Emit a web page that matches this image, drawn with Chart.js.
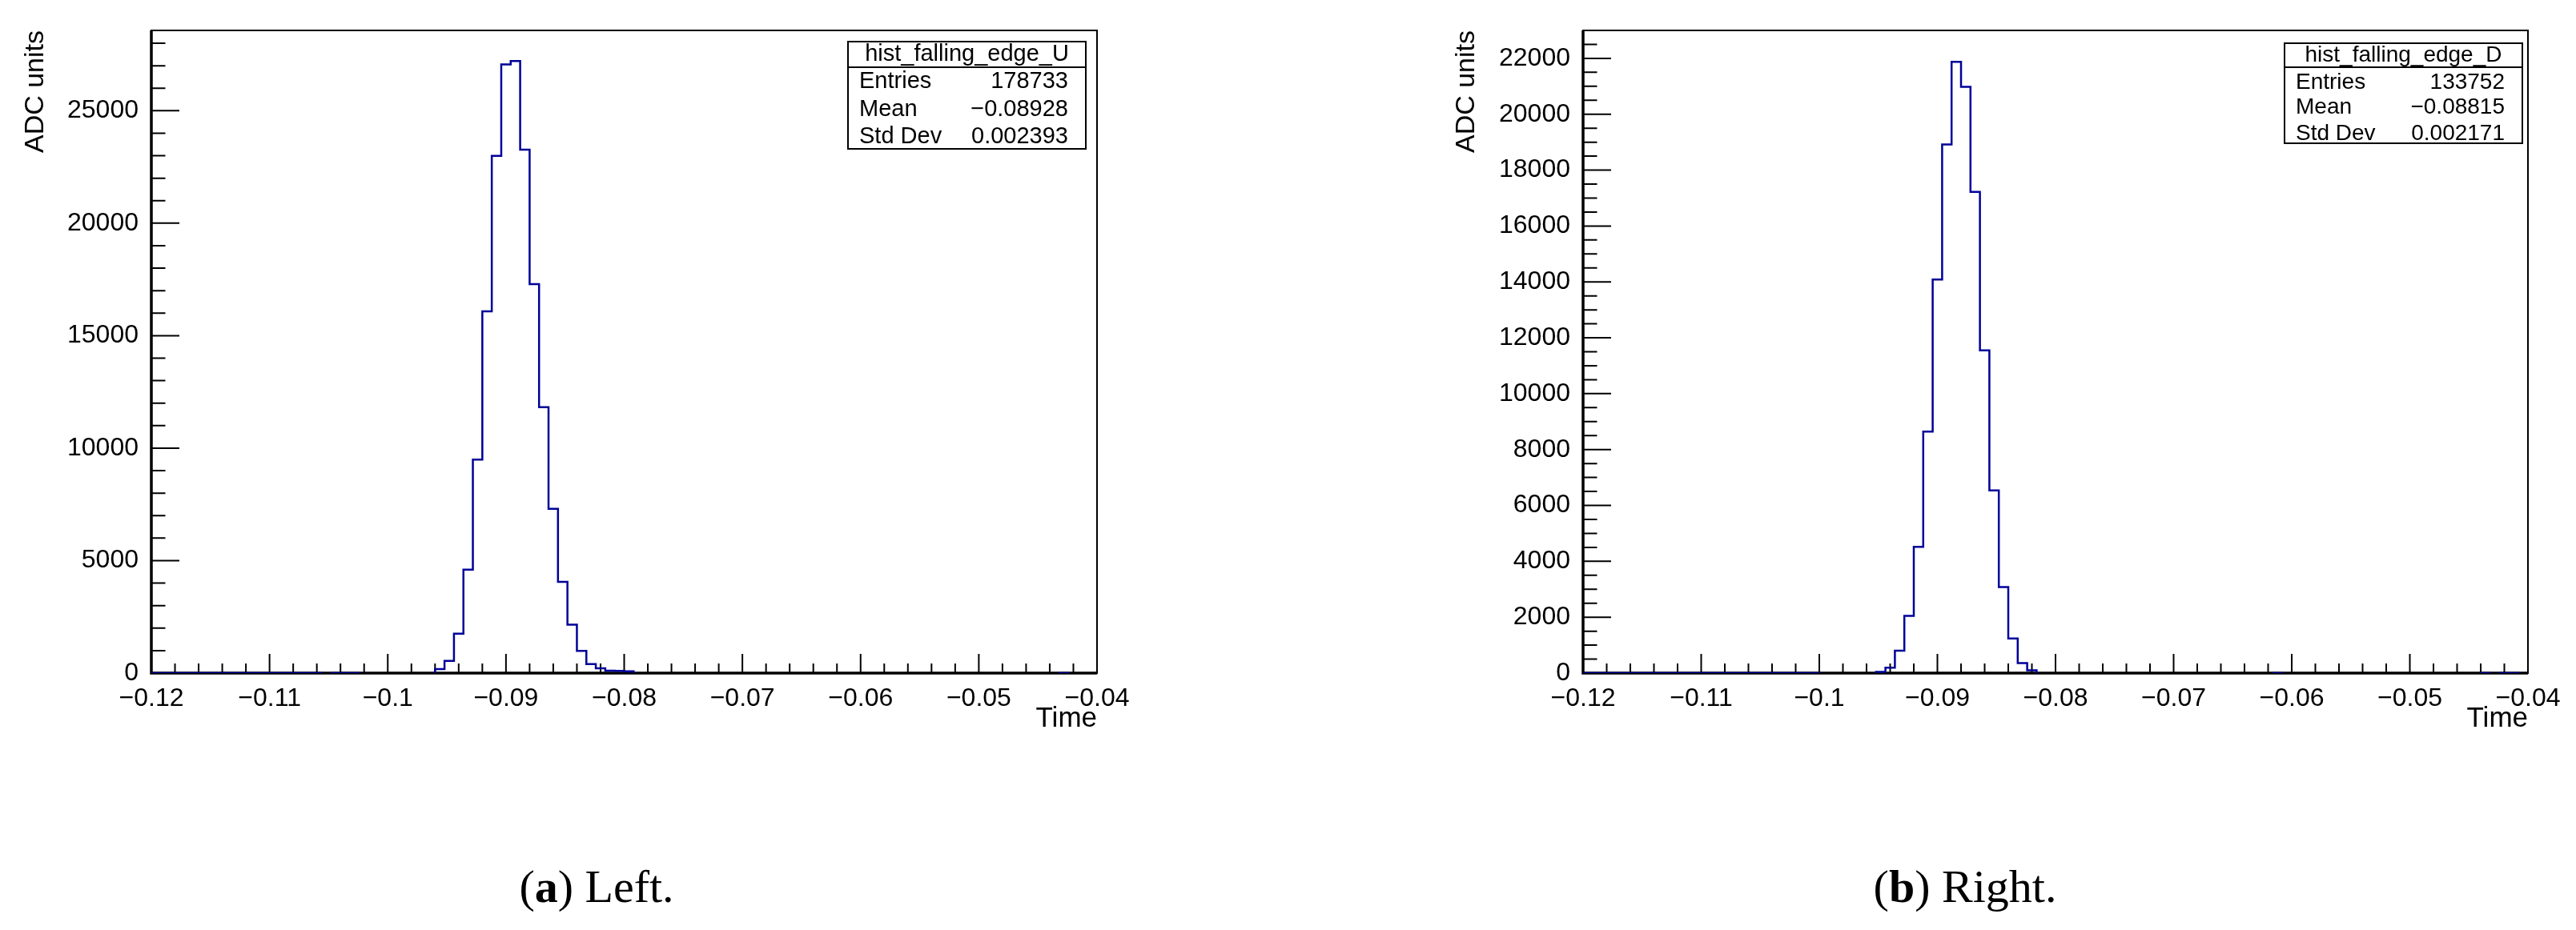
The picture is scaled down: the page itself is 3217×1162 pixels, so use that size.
<!DOCTYPE html>
<html>
<head>
<meta charset="utf-8">
<script src="https://cdn.jsdelivr.net/npm/chart.js@4.4.0/dist/chart.umd.min.js"></script>
<style>
  body { margin: 0; background: #fff; width: 3217px; height: 1162px; position: relative; overflow: hidden; }
  .panel { position: absolute; top: 0; }
  .caption { position: absolute; top: 1079px; line-height: 1; font-family: "Liberation Serif", serif; font-size: 58px; color: #000; white-space: nowrap; transform: translateX(-50%); }
</style>
</head>
<body>
<canvas class="panel" id="chartU" width="1600" height="1000" style="left:0"></canvas>
<canvas class="panel" id="chartD" width="1617" height="1000" style="left:1600px"></canvas>
<div class="caption" style="left:745px">(<b>a</b>) Left.</div>
<div class="caption" style="left:2454px">(<b>b</b>) Right.</div>
<script>
// histogram range, 100 bins
const xMin = -0.12;
const xMax = -0.04;
const xTickValues = [-0.12, -0.11, -0.1, -0.09, -0.08, -0.07, -0.06, -0.05, -0.04];

const countsU = [
  1, 1, 1, 1, 1, 1, 1, 1, 1, 1,
  1, 1, 1, 1, 1, 1, 1, 1, 0, 1,
  1, 1, 0, 0, 0, 0, 0, 0, 0, 0,
  180, 540, 1750, 4600, 9490, 16080, 22990, 27060, 27210, 23270,
  17290, 11820, 7300, 4060, 2150, 990, 400, 215, 110, 95,
  80, 0, 0, 0, 0, 0, 0, 0, 0, 0,
  0, 0, 0, 0, 0, 0, 0, 0, 0, 0,
  0, 0, 0, 0, 0, 0, 0, 0, 0, 0,
  0, 0, 0, 0, 0, 0, 0, 0, 0, 0,
  0, 0, 0, 0, 0, 0, 1, 0, 0, 0
];
const countsD = [
  1, 1, 1, 1, 1, 1, 1, 1, 1, 1,
  1, 1, 1, 1, 1, 1, 1, 1, 1, 1,
  1, 1, 1, 1, 1, 0, 0, 0, 0, 0,
  0, 40, 190, 804, 2047, 4518, 8642, 14085, 18921, 21877,
  20983, 17224, 11553, 6535, 3078, 1240, 360, 100, 0, 0,
  0, 0, 0, 0, 0, 0, 0, 0, 0, 0,
  0, 0, 0, 0, 0, 0, 0, 0, 0, 0,
  0, 0, 0, 1, 0, 0, 0, 0, 0, 0,
  0, 0, 0, 0, 0, 0, 0, 0, 0, 0,
  0, 0, 0, 0, 0, 1, 0, 1, 1, 0
];

const yMaxU = 28570;
const yMaxD = 23000;
const yTicksU = [0, 5000, 10000, 15000, 20000, 25000];
const yTicksD = [0, 2000, 4000, 6000, 8000, 10000, 12000, 14000, 16000, 18000, 20000, 22000];

const statLabels = ["Entries", "Mean", "Std Dev"];
const statsU = ["178733", "\u22120.08928", "0.002393"];
const statsD = ["133752", "\u22120.08815", "0.002171"];

const FONT = '"Liberation Sans", Arial, sans-serif';

// stepped outline of a histogram, broken where bins are empty
function outline(counts) {
  const w = (xMax - xMin) / counts.length;
  const pts = [];
  let k = 0;
  while (k < counts.length) {
    if (!counts[k]) { k++; continue; }
    pts.push({x: xMin + k * w, y: 0});
    while (k < counts.length && counts[k]) {
      pts.push({x: xMin + k * w, y: counts[k]});
      pts.push({x: xMin + (k + 1) * w, y: counts[k]});
      k++;
    }
    pts.push({x: xMin + k * w, y: 0});
    pts.push({x: xMin + k * w, y: null});
  }
  return pts;
}

function fmtX(v) {
  const s = String(Number(v.toFixed(3)));
  return s.replace('-', '\u2212');
}

// ROOT-like frame: box, inner ticks, stats box
const rootFrame = {
  id: 'rootFrame',
  beforeDatasetsDraw(chart, args, o) {
    const {ctx, chartArea: a, scales: {x, y}} = chart;
    ctx.save();
    ctx.strokeStyle = '#000';
    ctx.lineWidth = 2;
    ctx.strokeRect(a.left, a.top, a.right - a.left, a.bottom - a.top);
    ctx.lineWidth = 2;
    ctx.beginPath();
    const nx = Math.round((xMax - xMin) / o.xMinor);
    for (let i = 0; i <= nx; i++) {
      const px = x.getPixelForValue(xMin + i * o.xMinor);
      const len = i % 5 === 0 ? 24 : 12;
      ctx.moveTo(px, a.bottom);
      ctx.lineTo(px, a.bottom - len);
    }
    for (let i = 0; i * o.yMinor <= y.max; i++) {
      const py = y.getPixelForValue(i * o.yMinor);
      const len = i % o.yPer === 0 ? 35 : 17.5;
      ctx.moveTo(a.left, py);
      ctx.lineTo(a.left + len, py);
    }
    ctx.stroke();
    ctx.lineWidth = 3.5;
    ctx.beginPath();
    ctx.moveTo(a.left, a.top);
    ctx.lineTo(a.left, a.bottom);
    ctx.lineTo(a.right, a.bottom);
    ctx.stroke();
    ctx.restore();
  },
  afterDraw(chart, args, o) {
    const ctx = chart.ctx;
    const b = o.box;
    ctx.save();
    ctx.fillStyle = '#fff';
    ctx.fillRect(b.x0, b.y0, b.x1 - b.x0, b.y1 - b.y0);
    ctx.strokeStyle = '#000';
    ctx.lineWidth = 2;
    ctx.strokeRect(b.x0, b.y0, b.x1 - b.x0, b.y1 - b.y0);
    ctx.beginPath();
    ctx.moveTo(b.x0, b.yDiv);
    ctx.lineTo(b.x1, b.yDiv);
    ctx.stroke();
    ctx.fillStyle = '#000';
    ctx.font = b.font + 'px ' + FONT;
    ctx.textBaseline = 'middle';
    ctx.textAlign = 'center';
    ctx.fillText(o.name, (b.x0 + b.x1) / 2, (b.y0 + b.yDiv) / 2);
    o.values.forEach((val, i) => {
      ctx.textAlign = 'left';
      ctx.fillText(statLabels[i], b.x0 + 14, b.rows[i]);
      ctx.textAlign = 'right';
      ctx.fillText(val, b.x1 - 22, b.rows[i]);
    });
    ctx.restore();
  }
};

function makeChart(id, counts, yMax, yTicks, yWidth, titlePad, padRight, frameOpts) {
  return new Chart(document.getElementById(id), {
    type: 'line',
    data: {
      datasets: [{
        data: outline(counts),
        borderColor: '#000099',
        borderWidth: 2.5,
        pointRadius: 0,
        tension: 0,
        fill: false,
        spanGaps: false
      }]
    },
    options: {
      responsive: false,
      animation: false,
      layout: {padding: {left: 0, top: 38, right: padRight, bottom: 0}},
      plugins: {legend: {display: false}, tooltip: {enabled: false}, rootFrame: frameOpts},
      scales: {
        x: {
          type: 'linear', min: xMin, max: xMax,
          grid: {display: false}, border: {display: false},
          afterBuildTicks: s => { s.ticks = xTickValues.map(v => ({value: v})); },
          afterFit: s => { s.height = 159; s.paddingLeft = 0; s.paddingRight = 0; },
          ticks: {
            autoSkip: false, maxRotation: 0, padding: 5, color: '#000',
            font: {family: FONT, size: 32},
            callback: v => fmtX(v)
          },
          title: {
            display: true, text: 'Time', align: 'end', color: '#000',
            font: {family: FONT, size: 35}, padding: {top: 0, bottom: 81}
          }
        },
        y: {
          type: 'linear', min: 0, max: yMax,
          grid: {display: false}, border: {display: false},
          afterBuildTicks: s => { s.ticks = yTicks.map(v => ({value: v})); },
          afterFit: s => { s.width = yWidth; s.paddingTop = 0; s.paddingBottom = 0; },
          ticks: {
            autoSkip: false, padding: 8, color: '#000',
            font: {family: FONT, size: 32},
            callback: v => String(v)
          },
          title: {
            display: true, text: 'ADC units', align: 'end', color: '#000',
            font: {family: FONT, size: 34}, padding: {top: titlePad, bottom: 0}
          }
        }
      }
    },
    plugins: [rootFrame]
  });
}

makeChart('chartU', countsU, yMaxU, yTicksU, 189, 24, 230, {
  xMinor: 0.002, yMinor: 1000, yPer: 5,
  name: 'hist_falling_edge_U', values: statsU,
  box: {x0: 1059, y0: 52, x1: 1356, y1: 186, yDiv: 84, rows: [102, 137, 171], font: 29}
});
makeChart('chartD', countsD, yMaxD, yTicksD, 377, 211, 60, {
  xMinor: 0.002, yMinor: 500, yPer: 4,
  name: 'hist_falling_edge_D', values: statsD,
  box: {x0: 1253, y0: 54, x1: 1550, y1: 179, yDiv: 84, rows: [103, 134, 167], font: 28}
});
</script>
</body>
</html>
